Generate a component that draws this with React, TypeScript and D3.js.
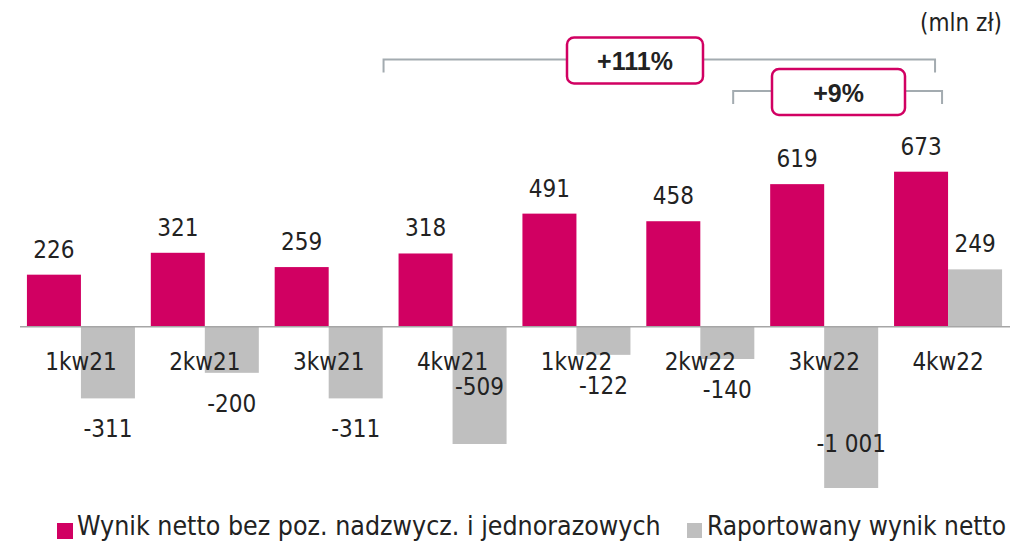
import * as d3 from "d3";
import React from "react";

// quarters and the two series (mln zl)
const quarters = ["1kw21", "2kw21", "3kw21", "4kw21", "1kw22", "2kw22", "3kw22", "4kw22"];
const adjusted = [226, 321, 259, 318, 491, 458, 619, 673];
const reported = [-311, -200, -311, -509, -122, -140, -1001, 249];
const seriesNames = ["Wynik netto bez poz. nadzwycz. i jednorazowych", "Raportowany wynik netto"];
const growth = [
  { label: "+111%", from: "4kw21", to: "4kw22" },
  { label: "+9%", from: "3kw22", to: "4kw22" },
];

const W = 1015;
const H = 542;
const PINK = "#D10062";
const GREY = "#BFBFBF";
const INK = "#222222";
const FONT = "'DejaVu Sans Condensed', 'DejaVu Sans', sans-serif";

// fmt like "-1 001"
const fmt = (v: number) => {
  const s = Math.abs(v).toString().replace(/\B(?=(\d{3})+(?!\d))/g, " ");
  return (v < 0 ? "-" : "") + s;
};

export default function App() {
  const x = d3.scaleBand().domain(quarters).range([19, 1010]).paddingInner(0.128).paddingOuter(0.064);
  const inner = d3.scaleBand().domain(["a", "r"]).range([0, x.bandwidth()]);
  // the axis stops at -700, the -1 001 bar is cut there
  const y = d3.scaleLinear().domain([-700, 673]).range([488, 171.7]).clamp(true);
  const zero = y(0);

  // hand placed labels in the original
  const nudge: Record<string, number> = { "4kw21": 395, "3kw22": 452 };

  const bracket = (g: typeof growth[0], i: number) => {
    const x0 = i === 0 ? (x(g.from) as number) - 15 : (x(g.from) as number) - 37;
    const x1 = i === 0 ? (x(g.to) as number) + 41 : (x(g.to) as number) + 48;
    const ly = i === 0 ? 59.5 : 91;
    const cx = i === 0 ? 635 : 838.5;
    const bw = i === 0 ? 136 : 133;
    return (
      <g key={g.label}>
        <path
          d={`M${x0},${ly + 13}V${ly}H${x1}V${ly + 13}`}
          fill="none"
          stroke="#A3ABB0"
          strokeWidth={2}
        />
        <rect x={cx - bw / 2} y={ly - 22} width={bw} height={46} rx={7} fill="#fff" stroke={PINK} strokeWidth={2.5} />
        <text x={cx} y={ly + 10.5} textAnchor="middle" fontFamily="'Liberation Sans', Arial, sans-serif" fontWeight="bold" fontSize={25} fill={INK}>
          {g.label}
        </text>
      </g>
    );
  };

  return (
    <svg width={W} height={H} style={{ position: "absolute", left: 0, top: 0 }} fontFamily={FONT}>
      <rect width={W} height={H} fill="#fff" />
      <text x={1002} y={31} textAnchor="end" fontSize={24} fill={INK}>(mln zł)</text>

      {quarters.map((q, i) => {
        const bx = x(q) as number;
        const a = adjusted[i];
        const r = reported[i];
        const ax = bx + (inner("a") as number);
        const rx = bx + (inner("r") as number);
        const bw = inner.bandwidth();
        const rTop = Math.min(y(r), zero);
        const rBot = Math.max(y(r), zero);
        const rLabelY = r >= 0 ? y(r) - 17 : nudge[q] ?? y(r) + 39;
        return (
          <g key={q}>
            <rect x={ax} y={y(a)} width={bw} height={zero - y(a)} fill={PINK} />
            <rect x={rx} y={rTop} width={bw} height={rBot - rTop} fill={GREY} />
            <text x={ax + bw / 2} y={y(a) - 17} textAnchor="middle" fontSize={24} fill={INK}>{fmt(a)}</text>
            <text x={rx + bw / 2} y={rLabelY} textAnchor="middle" fontSize={24} fill={INK}>{fmt(r)}</text>
          </g>
        );
      })}

      <line x1={20} x2={1010} y1={zero} y2={zero} stroke="#A6A6A6" strokeWidth={1.5} />

      {quarters.map(q => (
        <text key={q} x={(x(q) as number) + x.bandwidth() / 2} y={369.5} textAnchor="middle" fontSize={24} fill={INK}>
          {q}
        </text>
      ))}

      {growth.map(bracket)}

      {/* legend */}
      <rect x={57} y={523} width={16} height={16} fill={PINK} />
      <text x={77} y={535} fontSize={26.5} fill={INK}>{seriesNames[0]}</text>
      <rect x={687} y={523} width={15} height={15} fill={GREY} />
      <text x={707} y={535} fontSize={26} fill={INK}>{seriesNames[1]}</text>
    </svg>
  );
}
